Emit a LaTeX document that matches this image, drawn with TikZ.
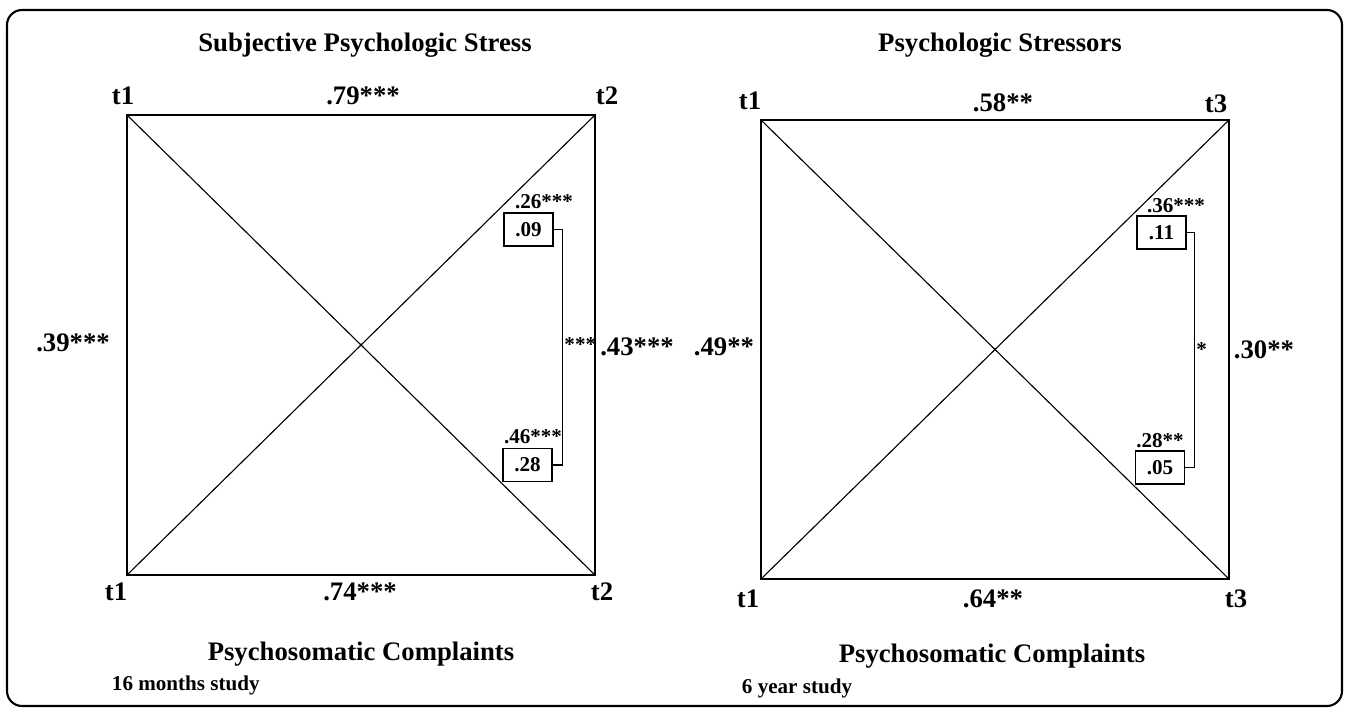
\documentclass[tikz,border=0pt]{standalone}
\usepackage{fontspec}
\setmainfont{Liberation Serif}
\usepackage{tikz}
\usetikzlibrary{positioning}

\begin{document}
\begin{tikzpicture}[font=\bfseries,
    big/.style={font=\fontsize{19}{22}\selectfont\bfseries},
    small/.style={font=\fontsize{15}{17}\selectfont\bfseries},
    note/.style={font=\fontsize{15}{17}\selectfont\bfseries, anchor=west},
    coefbox/.style={draw, line width=0.8pt, minimum width=1.225cm, minimum height=0.825cm, inner sep=0pt, small},
    sq/.style={line width=1.2pt},
    diag/.style={line width=0.8pt}]
      % scale: 1 cm = 40 px of the reference
      \useasboundingbox (0,0) rectangle (33.7,-17.8);
      \draw[line width=1.5pt, rounded corners=0.375cm] (0.175,-0.25) rectangle (33.55,-17.65);

      % left panel: 16 months
      \coordinate (l-tl) at (3.175,-2.875);
      \coordinate (l-tr) at (14.875,-2.875);
      \coordinate (l-bl) at (3.175,-14.375);
      \coordinate (l-br) at (14.875,-14.375);
      \draw[sq] (l-tl) -- (l-tr) -- (l-br) -- (l-bl) -- cycle;
      \draw[diag] (l-tl) -- (l-br);
      \draw[diag] (l-bl) -- (l-tr);
      \node[big] (l-title) at (9.125,-1.125) {Subjective Psychologic Stress};
      \node[big] (l-t1a) at (3.075,-2.4)  {t1};
      \node[big] (l-top) at (9.075,-2.4)  {.79***};
      \node[big] (l-t2a) at (15.175,-2.4) {t2};
      \node[big] (l-left) at (1.825,-8.575) {.39***};
      \node[big] (l-right) at (15.925,-8.675) {.43***};
      \node[big] (l-t1b) at (2.9,-14.8)   {t1};
      \node[big] (l-bot) at (9.0,-14.8)   {.74***};
      \node[big] (l-t2b) at (15.05,-14.8) {t2};
      \node[big] (l-sub) at (9.025,-16.35) {Psychosomatic Complaints};
      \node[note] (l-study) at (2.675,-17.125) {16 months study};
      \node[small] (l-c1) at (13.6,-5.05) {.26***};
      \node[coefbox] (l-b1) at (13.2125,-5.7375) {.09};
      \node[small] (l-c2) at (13.325,-10.925) {.46***};
      \node[coefbox] (l-b2) at (13.1875,-11.625) {.28};
      \draw[line width=0.8pt] (l-b1.east) -- ++(0.225,0) coordinate (l-k) |- (l-b2.east);
      \node[small, anchor=west, inner sep=1pt] (l-sig) at (14.07,-8.625) {***};

      % right panel: 6 years
      \coordinate (r-tl) at (19.025,-3.0);
      \coordinate (r-tr) at (30.725,-3.0);
      \coordinate (r-bl) at (19.025,-14.475);
      \coordinate (r-br) at (30.725,-14.475);
      \draw[sq] (r-tl) -- (r-tr) -- (r-br) -- (r-bl) -- cycle;
      \draw[diag] (r-tl) -- (r-br);
      \draw[diag] (r-bl) -- (r-tr);
      \node[big] (r-title) at (25.0,-1.125) {Psychologic Stressors};
      \node[big] (r-t1a) at (18.75,-2.525) {t1};
      \node[big] (r-top) at (25.075,-2.575) {.58**};
      \node[big] (r-t3a) at (30.4,-2.6)   {t3};
      \node[big] (r-left) at (18.1,-8.675) {.49**};
      \node[big] (r-right) at (31.6,-8.75) {.30**};
      \node[big] (r-t1b) at (18.7,-14.975) {t1};
      \node[big] (r-bot) at (24.825,-14.975) {.64**};
      \node[big] (r-t3b) at (30.9,-14.975) {t3};
      \node[big] (r-sub) at (24.8,-16.4) {Psychosomatic Complaints};
      \node[note] (r-study) at (18.425,-17.2) {6 year study};
      \node[small] (r-c1) at (29.4,-5.15) {.36***};
      \node[coefbox] (r-b1) at (29.0375,-5.8125) {.11};
      \node[small] (r-c2) at (29.0,-11.025) {.28**};
      \node[coefbox] (r-b2) at (29.0,-11.6875) {.05};
      \draw[line width=0.8pt] (r-b1.east) -- ++(0.2,0) coordinate (r-k) |- (r-b2.east);
      \node[small, anchor=west, inner sep=1pt] (r-sig) at (29.87,-8.75) {*};
\end{tikzpicture}
\end{document}
